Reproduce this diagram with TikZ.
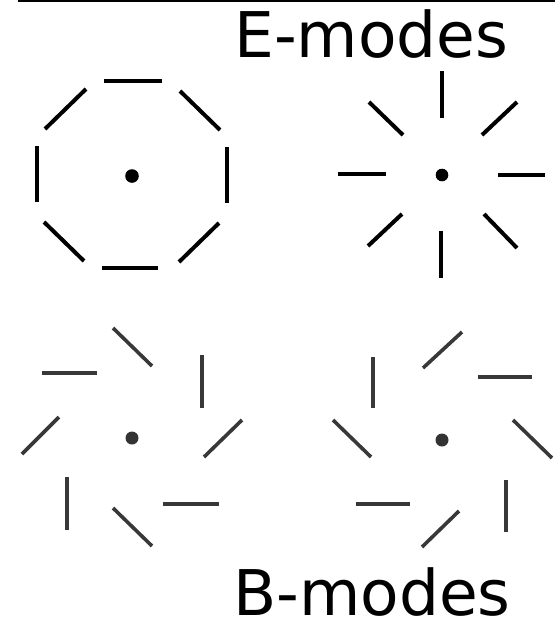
\documentclass[tikz,border=0pt]{standalone}
\usepackage{fontspec}
\setmainfont{DejaVu Sans}
\begin{document}
\begin{tikzpicture}[x=1pt,y=-1pt,
  seg/.style={line width=4pt,line cap=butt,black},
  bseg/.style={line width=3.6pt,line cap=butt,black!78},
  dotE/.style={fill=black},
  dotB/.style={fill=black!80},
  lbl/.style={font=\fontsize{63}{63}\selectfont,anchor=base west,inner sep=0pt,text depth=0pt}]
\useasboundingbox (0,0) rectangle (555,622);
\draw[line width=2pt] (18,1) -- (555,1);
\node[lbl] (E) at (234,57) {E-modes};
\node[lbl] (B) at (233,615) {B-modes};
% E-mode tangential
\fill[dotE] (132,176) circle (6.8pt);
\draw[seg] (104,81)--(162,81);
\draw[seg] (180,91)--(220,130);
\draw[seg] (227,147)--(227,203);
\draw[seg] (219,223)--(179,262);
\draw[seg] (102,268)--(158,268);
\draw[seg] (44,222)--(84,261);
\draw[seg] (37,146)--(37,202);
\draw[seg] (45,129)--(86,89);
% E-mode radial
\fill[dotE] (442,175) circle (6.3pt);
\draw[seg] (442,71)--(442,118);
\draw[seg] (338,174)--(386,174);
\draw[seg] (498,175)--(545,175);
\draw[seg] (441,231)--(441,278);
\draw[seg] (369,102)--(403,135);
\draw[seg] (482,135)--(517,102);
\draw[seg] (402,214)--(368,246);
\draw[seg] (484,214)--(517,248);
% B-mode one handedness
\fill[dotB] (132,438) circle (6.5pt);
\draw[bseg] (113,328)--(152,366);
\draw[bseg] (202,355)--(202,408);
\draw[bseg] (242,420)--(204,457);
\draw[bseg] (163,504)--(219,504);
\draw[bseg] (113,508)--(152,546);
\draw[bseg] (67,477)--(67,530);
\draw[bseg] (22,454)--(59,417);
\draw[bseg] (42,373)--(97,373);
% B-mode other handedness
\fill[dotB] (442,440) circle (6.5pt);
\draw[bseg] (423,368)--(462,332);
\draw[bseg] (478,377)--(532,377);
\draw[bseg] (513,420)--(552,458);
\draw[bseg] (506,480)--(506,532);
\draw[bseg] (459,511)--(422,547);
\draw[bseg] (356,504)--(410,504);
\draw[bseg] (333,420)--(371,457);
\draw[bseg] (373,357)--(373,408);
\end{tikzpicture}
\end{document}
